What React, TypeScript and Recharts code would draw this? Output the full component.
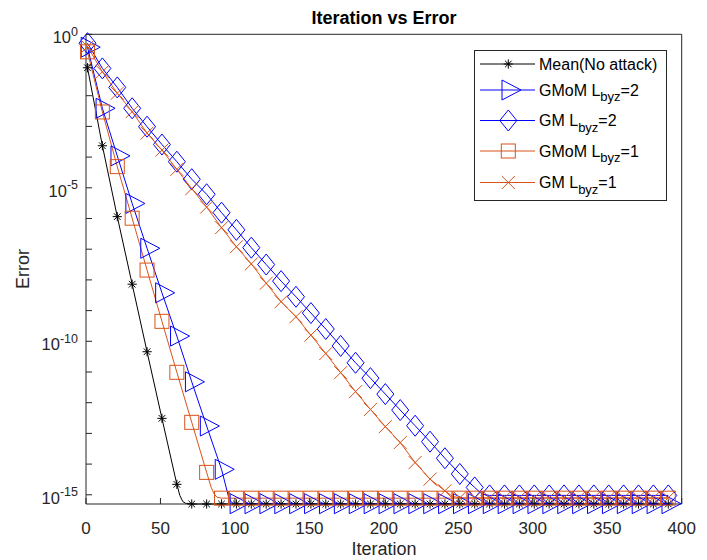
import React from 'react';
import { LineChart, Line, XAxis, YAxis, Legend, Label } from 'recharts';

// ---------- data (iteration, log10 of error) ----------
const iterTicks = [0, 50, 100, 150, 200, 250, 300, 350, 400];
const errTickExponents = [0, -1, -2, -3, -4, -5, -6, -7, -8, -9, -10, -11, -12, -13, -14, -15];
const labeledExponents = [0, -5, -10, -15];
const yMinExponent = -15.3;

const meanIter = [1, 11, 21, 31, 41, 51, 61, 63, 65, 67, 71, 81, 91, 101, 111, 121, 131, 141, 151, 161, 171, 181, 191, 201, 211, 221, 231, 241, 251, 261, 271, 281, 291, 301, 311, 321, 331, 341, 351, 361, 371, 381, 391];
const meanLogErr = [-1.09, -3.63, -5.94, -8.14, -10.34, -12.51, -14.66, -15.02, -15.22, -15.28, -15.3, -15.3, -15.3, -15.3, -15.3, -15.3, -15.3, -15.3, -15.3, -15.3, -15.3, -15.3, -15.3, -15.3, -15.3, -15.3, -15.3, -15.3, -15.3, -15.3, -15.3, -15.3, -15.3, -15.3, -15.3, -15.3, -15.3, -15.3, -15.3, -15.3, -15.3, -15.3, -15.3];

const gmom2Iter = [1, 11, 21, 31, 41, 51, 61, 71, 81, 91, 96, 98, 101, 111, 121, 131, 141, 151, 161, 171, 181, 191, 201, 211, 221, 231, 241, 251, 261, 271, 281, 291, 301, 311, 321, 331, 341, 351, 361, 371, 381, 391];
const gmom2LogErr = [-0.42, -2.41, -3.96, -5.51, -6.97, -8.42, -9.83, -11.32, -12.76, -14.17, -15.12, -15.26, -15.29, -15.29, -15.29, -15.29, -15.29, -15.29, -15.29, -15.29, -15.29, -15.29, -15.29, -15.29, -15.29, -15.29, -15.29, -15.29, -15.29, -15.29, -15.29, -15.29, -15.29, -15.29, -15.29, -15.29, -15.29, -15.29, -15.29, -15.29, -15.29, -15.29];

const gm2Iter = [1, 11, 21, 31, 41, 51, 61, 71, 81, 91, 101, 111, 121, 131, 141, 151, 161, 171, 181, 191, 201, 211, 221, 231, 241, 251, 261, 266, 271, 281, 291, 301, 311, 321, 331, 341, 351, 361, 371, 381, 391];
const gm2LogErr = [-0.29, -1.11, -1.73, -2.41, -3.01, -3.59, -4.15, -4.72, -5.21, -5.81, -6.37, -6.95, -7.5, -8.04, -8.55, -9.08, -9.6, -10.15, -10.7, -11.2, -11.72, -12.24, -12.75, -13.27, -13.81, -14.32, -14.76, -14.98, -15.02, -15.02, -15.02, -15.02, -15.02, -15.02, -15.02, -15.02, -15.02, -15.02, -15.02, -15.02, -15.02];

const gmom1Iter = [1, 11, 21, 31, 41, 51, 61, 71, 81, 84, 86, 88, 91, 101, 111, 121, 131, 141, 151, 161, 171, 181, 191, 201, 211, 221, 231, 241, 251, 261, 271, 281, 291, 301, 311, 321, 331, 341, 351, 361, 371, 381, 391];
const gmom1LogErr = [-0.57, -2.53, -4.31, -5.99, -7.68, -9.35, -11.01, -12.64, -14.27, -14.75, -14.97, -15.08, -15.11, -15.11, -15.11, -15.11, -15.11, -15.11, -15.11, -15.11, -15.11, -15.11, -15.11, -15.11, -15.11, -15.11, -15.11, -15.11, -15.11, -15.11, -15.11, -15.11, -15.11, -15.11, -15.11, -15.11, -15.11, -15.11, -15.11, -15.11, -15.11, -15.11, -15.11];

const gm1Iter = [1, 11, 21, 31, 41, 51, 61, 71, 81, 91, 101, 111, 121, 131, 141, 151, 161, 171, 181, 191, 201, 211, 221, 231, 241, 246, 251, 261, 271, 281, 291, 301, 311, 321, 331, 341, 351, 361, 371, 381, 391];
const gm1LogErr = [-0.4, -1.22, -1.92, -2.52, -3.22, -3.77, -4.4, -5.03, -5.63, -6.3, -6.92, -7.48, -8.11, -8.71, -9.2, -9.8, -10.4, -11.02, -11.64, -12.22, -12.78, -13.3, -13.95, -14.49, -14.87, -15.05, -15.1, -15.1, -15.1, -15.1, -15.1, -15.1, -15.1, -15.1, -15.1, -15.1, -15.1, -15.1, -15.1, -15.1, -15.1];

// ---------- styling ----------
const FONT = '"Liberation Sans", Arial, Helvetica, sans-serif';
const AXIS_COLOR = '#262626';
const BLUE = '#0000FF';
const ORANGE = '#D95319';
const BLACK = '#000000';
const TICK_LEN = 6;

type Pt = { x: number; y: number };
const build = (iters: number[], logs: number[]): Pt[] =>
  iters.map((x, i) => ({ x, y: Math.pow(10, logs[i]) }));

type Kind = 'star' | 'triangle' | 'diamond' | 'square' | 'cross';

const series: { name: string; base: string; sub?: string; tail?: string; color: string; kind: Kind; data: Pt[] }[] = [
  { name: 'Mean(No attack)', base: 'Mean(No attack)', color: BLACK, kind: 'star', data: build(meanIter, meanLogErr) },
  { name: 'GMoM Lbyz=2', base: 'GMoM L', sub: 'byz', tail: '=2', color: BLUE, kind: 'triangle', data: build(gmom2Iter, gmom2LogErr) },
  { name: 'GM Lbyz=2', base: 'GM L', sub: 'byz', tail: '=2', color: BLUE, kind: 'diamond', data: build(gm2Iter, gm2LogErr) },
  { name: 'GMoM Lbyz=1', base: 'GMoM L', sub: 'byz', tail: '=1', color: ORANGE, kind: 'square', data: build(gmom1Iter, gmom1LogErr) },
  { name: 'GM Lbyz=1', base: 'GM L', sub: 'byz', tail: '=1', color: ORANGE, kind: 'cross', data: build(gm1Iter, gm1LogErr) },
];

function Marker({ kind, cx, cy, color }: { kind: Kind; cx: number; cy: number; color: string }) {
  const common = { stroke: color, strokeWidth: 1, fill: 'none' };
  switch (kind) {
    case 'star': {
      const r = 4.6;
      const d = r * 0.72;
      return (
        <g {...common}>
          <line x1={cx - r} y1={cy} x2={cx + r} y2={cy} />
          <line x1={cx} y1={cy - r} x2={cx} y2={cy + r} />
          <line x1={cx - d} y1={cy - d} x2={cx + d} y2={cy + d} />
          <line x1={cx - d} y1={cy + d} x2={cx + d} y2={cy - d} />
        </g>
      );
    }
    case 'triangle':
      return <polygon {...common} points={`${cx - 6.3},${cy - 10} ${cx - 6.3},${cy + 10} ${cx + 12.7},${cy}`} />;
    case 'diamond':
      return <polygon {...common} points={`${cx},${cy - 10.5} ${cx + 8.5},${cy} ${cx},${cy + 10.5} ${cx - 8.5},${cy}`} />;
    case 'square':
      return <rect {...common} x={cx - 7} y={cy - 7} width={14} height={14} />;
    case 'cross': {
      const r = 6.5;
      return (
        <g {...common}>
          <line x1={cx - r} y1={cy - r} x2={cx + r} y2={cy + r} />
          <line x1={cx - r} y1={cy + r} x2={cx + r} y2={cy - r} />
        </g>
      );
    }
  }
  return null;
}

const makeDot = (kind: Kind, color: string) => (props: any) => {
  const { cx, cy, payload, index } = props;
  if (cx == null || cy == null || !payload || (payload.x - 1) % 10 !== 0) {
    return <g key={`e-${index}`} />;
  }
  return (
    <g key={`m-${index}`}>
      <Marker kind={kind} cx={cx} cy={cy} color={color} />
    </g>
  );
};

const BottomTick = (p: any) => {
  const { x, y, payload } = p;
  return (
    <g>
      <line x1={x} y1={y} x2={x} y2={y - TICK_LEN} stroke={AXIS_COLOR} strokeWidth={1} />
      <text x={x} y={y + 29.5} textAnchor="middle" fontSize={17} fill={AXIS_COLOR} fontFamily={FONT}>
        {payload.value}
      </text>
    </g>
  );
};

const TopTick = (p: any) => {
  const { x, y } = p;
  return <line x1={x} y1={y} x2={x} y2={y + TICK_LEN} stroke={AXIS_COLOR} strokeWidth={1} />;
};

const LeftTick = (p: any) => {
  const { x, y, payload } = p;
  const e = Math.round(Math.log10(payload.value));
  return (
    <g>
      <line x1={x} y1={y} x2={x + TICK_LEN} y2={y} stroke={AXIS_COLOR} strokeWidth={1} />
      {labeledExponents.includes(e) && (
        <text x={x - 8} y={y + 9} textAnchor="end" fontSize={16.5} fill={AXIS_COLOR} fontFamily={FONT}>
          10
          <tspan dy={-7.5} fontSize={12.5}>{String(e)}</tspan>
        </text>
      )}
    </g>
  );
};

const RightTick = (p: any) => {
  const { x, y } = p;
  return <line x1={x} y1={y} x2={x - TICK_LEN} y2={y} stroke={AXIS_COLOR} strokeWidth={1} />;
};

const rowY = [14, 40, 70.5, 101, 132.5];

const LegendBox = () => (
  <svg width={194} height={152} style={{ display: 'block' }}>
    <rect x={0.5} y={0.5} width={192} height={150} fill="#FFFFFF" stroke={AXIS_COLOR} strokeWidth={1} />
    {series.map((s, i) => (
      <g key={s.name}>
        <line x1={6} y1={rowY[i]} x2={61} y2={rowY[i]} stroke={s.color} strokeWidth={1} />
        <Marker kind={s.kind} cx={34.3} cy={rowY[i]} color={s.color} />
        <text x={65} y={rowY[i] + 5.5} fontSize={16} fill={BLACK} fontFamily={FONT}>
          {s.base}
          {s.sub && (
            <tspan dy={5.5} fontSize={13}>
              {s.sub}
            </tspan>
          )}
          {s.tail && <tspan dy={-5.5}>{s.tail}</tspan>}
        </text>
      </g>
    ))}
  </svg>
);

export default function App() {
  const yTicks = errTickExponents.map((e) => Math.pow(10, e));
  const yDomain = [Math.pow(10, yMinExponent), 1];
  return (
    <div style={{ width: 699, height: 552 }}>
      <LineChart width={699} height={552} margin={{ top: 25.3, right: 24.3, bottom: 0, left: 0 }}>
        <XAxis
          type="number"
          dataKey="x"
          domain={[0, 400]}
          ticks={iterTicks}
          interval={0}
          tickSize={0}
          tickMargin={0}
          tickLine={false}
          height={56}
          axisLine={{ stroke: AXIS_COLOR, strokeWidth: 1 }}
          tick={(p: any) => <BottomTick {...p} />}
        >
          <Label
            content={() => (
              <text x={376} y={547} textAnchor="middle" fontSize={18} fill={AXIS_COLOR} fontFamily={FONT}>
                Iteration
              </text>
            )}
          />
        </XAxis>
        <XAxis
          xAxisId="top"
          orientation="top"
          type="number"
          dataKey="x"
          domain={[0, 400]}
          ticks={iterTicks}
          interval={0}
          tickSize={0}
          tickMargin={0}
          tickLine={false}
          height={1}
          axisLine={{ stroke: AXIS_COLOR, strokeWidth: 1 }}
          tick={(p: any) => <TopTick {...p} />}
        >
          <Label
            content={() => (
              <text x={376} y={16} textAnchor="middle" fontSize={18} fontWeight="bold" fill={BLACK} fontFamily={FONT}>
                Iteration vs Error
              </text>
            )}
          />
        </XAxis>
        <YAxis
          scale="log"
          type="number"
          domain={yDomain}
          ticks={yTicks}
          interval={0}
          tickSize={0}
          tickMargin={0}
          tickLine={false}
          width={78}
          axisLine={{ stroke: AXIS_COLOR, strokeWidth: 1 }}
          tick={(p: any) => <LeftTick {...p} />}
        >
          <Label
            content={() => (
              <text
                x={21}
                y={261}
                transform="rotate(-90, 21, 261)"
                textAnchor="middle"
                fontSize={18}
                fill={AXIS_COLOR}
                fontFamily={FONT}
              >
                Error
              </text>
            )}
          />
        </YAxis>
        <YAxis
          yAxisId="right"
          orientation="right"
          scale="log"
          type="number"
          domain={yDomain}
          ticks={yTicks}
          interval={0}
          tickSize={0}
          tickMargin={0}
          tickLine={false}
          width={1}
          axisLine={{ stroke: AXIS_COLOR, strokeWidth: 1 }}
          tick={(p: any) => <RightTick {...p} />}
        />
        {series.map((s) => (
          <Line
            key={s.name}
            name={s.name}
            data={s.data}
            dataKey="y"
            type="linear"
            stroke={s.color}
            strokeWidth={1}
            dot={makeDot(s.kind, s.color)}
            activeDot={false}
            isAnimationActive={false}
          />
        ))}
        <Legend
          layout="vertical"
          align="center"
          verticalAlign="middle"
          wrapperStyle={{ left: 466, top: 42, width: 194, height: 152 }}
          content={() => <LegendBox />}
        />
      </LineChart>
    </div>
  );
}
